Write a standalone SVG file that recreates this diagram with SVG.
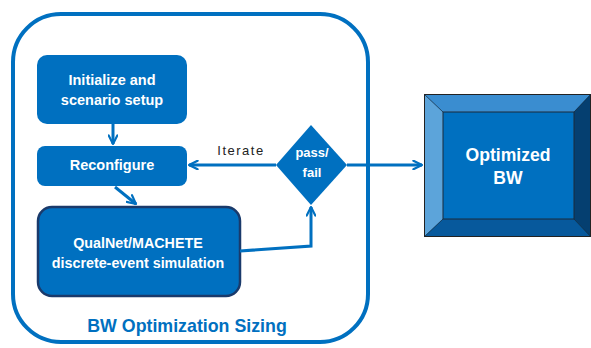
<svg xmlns="http://www.w3.org/2000/svg" width="591" height="348" viewBox="0 0 591 348">
<defs>
<style>
.box{fill:#0070C0;}
.wt{fill:#ffffff;font-family:"Liberation Sans",Arial,sans-serif;font-weight:bold;font-size:13.5px;text-anchor:middle;dominant-baseline:central;}
.con{fill:none;stroke:#0070C0;stroke-width:3;}
</style>
<marker id="arr" viewBox="0 0 10 10" refX="9" refY="5" markerWidth="3.6" markerHeight="3.6" orient="auto" markerUnits="strokeWidth">
<path d="M1,1 L9,5 L1,9" fill="none" stroke="#0070C0" stroke-width="2" stroke-linecap="round" stroke-linejoin="round"/>
</marker>
</defs>
<rect width="591" height="348" fill="#ffffff"/>
<g id="container">
<rect x="13" y="14" width="355" height="328" rx="48" ry="48" fill="none" stroke="#0070C0" stroke-width="4"/>
<text x="187" y="326" fill="#0070C0" font-family="Liberation Sans,Arial,sans-serif" font-weight="bold" font-size="17.8" text-anchor="middle" dominant-baseline="central">BW Optimization Sizing</text>
</g>
<g id="init">
<rect class="box" x="37" y="55" width="150" height="69" rx="10"/>
<text class="wt" x="112" y="80" style="font-size:14.5px">Initialize and</text>
<text class="wt" x="112" y="100" style="font-size:14.5px">scenario setup</text>
</g>
<g id="reconfigure">
<rect class="box" x="37" y="146" width="150" height="40" rx="8"/>
<text class="wt" x="112" y="165" style="font-size:14.5px">Reconfigure</text>
</g>
<g id="qualnet">
<rect x="38" y="207" width="202" height="89" rx="14" fill="#0070C0" stroke="#1A3A6B" stroke-width="2.5"/>
<text class="wt" x="138" y="243" style="font-size:14.3px">QualNet/MACHETE</text>
<text class="wt" x="138" y="263" style="font-size:14.3px">discrete-event simulation</text>
</g>
<g id="passfail">
<polygon points="311,125 347,165 311,205 276,165" fill="#0070C0"/>
<text class="wt" x="312" y="152" style="font-size:13px">pass/</text>
<text class="wt" x="312" y="172" style="font-size:13px">fail</text>
</g>
<g id="optimized">
<rect x="424" y="94" width="167" height="143" fill="#0070C0"/>
<polygon points="424,94 591,94 574,112 443,112" fill="#3A8DD0"/>
<polygon points="424,94 443,112 443,219 424,237" fill="#5CA4DA"/>
<polygon points="424,237 443,219 574,219 591,237" fill="#07599C"/>
<polygon points="591,94 574,112 574,219 591,237" fill="#053F70"/>
<rect x="443" y="112" width="131" height="107" fill="#0070C0" stroke="#1a2a3a" stroke-width="1"/>
<rect x="424.5" y="94.5" width="166" height="142" fill="none" stroke="#222" stroke-width="1"/>
<line x1="424" y1="94" x2="443" y2="112" stroke="#1a2a3a" stroke-width="0.7"/>
<line x1="424" y1="237" x2="443" y2="219" stroke="#1a2a3a" stroke-width="0.7"/>
<line x1="591" y1="94" x2="574" y2="112" stroke="#1a2a3a" stroke-width="0.7"/>
<line x1="591" y1="237" x2="574" y2="219" stroke="#1a2a3a" stroke-width="0.7"/>
<text class="wt" x="508" y="155" style="font-size:17.6px">Optimized</text>
<text class="wt" x="508" y="178" style="font-size:17.6px">BW</text>
</g>
<g id="connectors">
<line class="con" x1="113" y1="124" x2="113" y2="144" marker-end="url(#arr)"/>
<line class="con" x1="115" y1="187" x2="136" y2="204" marker-end="url(#arr)"/>
<line class="con" x1="276" y1="165" x2="189" y2="165" marker-end="url(#arr)"/>
<polyline class="con" points="240,251 311,246 311,207" marker-end="url(#arr)"/>
<line class="con" x1="347" y1="165" x2="422" y2="165" marker-end="url(#arr)"/>
<text x="241" y="150" fill="#222" font-family="Liberation Sans,Arial,sans-serif" font-size="13" text-anchor="middle" dominant-baseline="central" letter-spacing="1.5">Iterate</text>
</g>
</svg>
